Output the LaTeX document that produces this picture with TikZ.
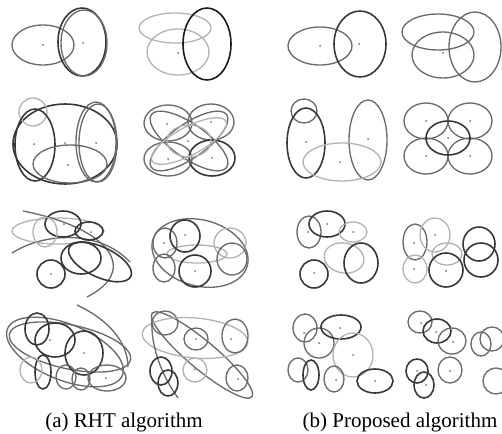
\documentclass[tikz,border=0pt]{standalone}
\usepackage{fontspec}
\setmainfont{Liberation Serif}
\tikzset{
  dk/.style={draw=black!78,line width=1.6pt},
  md/.style={draw=black!58,line width=1.35pt},
  lt/.style={draw=black!30,line width=1.3pt},
  ctr/.style={fill=black!55},
  caption/.style={anchor=base,font=\rmfamily\fontsize{21}{25}\selectfont}
}
\begin{document}
\begin{tikzpicture}[x=1pt,y=-1pt]
\useasboundingbox (0,0) rectangle (502,433);
% row 1
\draw[md] (43,45) ellipse (31 and 20);
\draw[dk] (82,42) ellipse (24 and 34);
\draw[md] (84,43) ellipse (23 and 33);
\draw[lt] (175,28) ellipse (36 and 15);
\draw[lt] (178,52) ellipse (31 and 23);
\draw[dk,draw=black!90] (207,44) ellipse (24 and 36);
\draw[md] (320,46) ellipse (32 and 19);
\draw[dk] (360,44) ellipse (26 and 33);
\draw[md] (438,32) ellipse (36 and 18);
\draw[md] (443,55) ellipse (31 and 23);
\draw[md] (475,47) ellipse (26 and 35);
\foreach \p in {(43,45),(83,43),(178,53),(320,46),(359,44),(443,53)}
  \fill[ctr] \p circle (1);
% row 2
\draw[dk] (65,144) ellipse (52 and 40);
\draw[lt] (33,112) circle (14);
\draw[dk] (35,145) ellipse (20 and 36);
\draw[md] (96,142) ellipse (20 and 40);
\draw[md] (98,143) ellipse (19 and 39);
\draw[md] (70,164) ellipse (37 and 19);
\draw[md] (168,123) ellipse (24 and 18);
\draw[md] (211,122) ellipse (23 and 18);
\draw[md] (168,159) ellipse (24 and 17);
\draw[dk] (212,158) ellipse (23 and 18);
\draw[md,rotate around={35:(189,141)}] (189,141) ellipse (46 and 17);
\draw[md,rotate around={-35:(189,141)}] (189,141) ellipse (46 and 17);
\draw[lt,rotate around={28:(189,141)}] (189,141) ellipse (42 and 14);
\draw[lt] (189,141) ellipse (22 and 16);
\draw[md] (304,111) ellipse (13 and 12);
\draw[dk] (306,143) ellipse (19 and 35);
\draw[md] (368,140) ellipse (19 and 40);
\draw[lt] (342,162) ellipse (39 and 19);
\foreach \c in {(426,121),(470,121),(426,156),(470,156)}
  \draw[md] \c ellipse (22 and 18);
\draw[dk] (448,138) ellipse (22 and 17);
\foreach \p in {(34,144),(96,143),(68,165),(65,143),(167,124),(211,122),(168,159),
  (212,158),(188,141),(306,142),(368,139),(340,162),(426,121),(470,121),
  (426,156),(470,156),(448,138)}
  \fill[ctr] \p circle (1);
% row 3
\draw[lt] (58,231) ellipse (46 and 13);
\draw[md] (12,253) .. controls (45,232) and (100,230) .. (130,262);
\draw[md] (23,211) .. controls (110,228) and (140,270) .. (87,297);
\draw[dk] (63,224) ellipse (18 and 13);
\draw[dk] (89,231) ellipse (14 and 9);
\draw[lt] (45,232) ellipse (12 and 15);
\draw[dk] (81,258) ellipse (20 and 16);
\draw[dk,rotate around={-25:(100,262)}] (100,262) ellipse (34 and 15);
\draw[dk] (51,274) circle (14);
\draw[md,rotate around={-15:(200,253)}] (200,253) ellipse (49 and 33);
\draw[lt] (197,254) ellipse (30 and 9);
\draw[md] (165,243) ellipse (12 and 15);
\draw[dk] (185,236) ellipse (15 and 16);
\draw[lt] (230,243) ellipse (16 and 15);
\draw[md] (232,259) ellipse (15 and 16);
\draw[md] (164,268) ellipse (11 and 14);
\draw[dk] (195,271) circle (16);
\draw[md] (309,232) ellipse (12 and 16);
\draw[dk] (327,224) ellipse (18 and 13);
\draw[lt] (353,232) ellipse (14 and 10);
\draw[lt,rotate around={-10:(344,258)}] (344,258) ellipse (20 and 15);
\draw[dk] (361,263) ellipse (17 and 20);
\draw[dk] (314,274) circle (14);
\draw[md] (415,242) ellipse (12 and 18);
\draw[lt] (435,235) ellipse (15 and 17);
\draw[lt] (415,269) ellipse (12 and 14);
\draw[lt] (447,254) ellipse (15 and 11);
\draw[dk] (446,270) circle (17);
\draw[dk] (479,244) ellipse (16 and 17);
\draw[dk] (481,260) circle (17);
\foreach \p in {(64,224),(91,232),(51,274),(164,243),(185,235),(195,271),
  (308,232),(327,224),(353,232),(314,273),(414,243),(435,235),(414,269),(446,271)}
  \fill[ctr] \p circle (1);
% row 4
\draw[md,rotate around={-22:(65,352)}] (65,352) ellipse (62 and 28);
\draw[md,rotate around={-12:(70,347)}] (70,347) ellipse (62 and 22);
\draw[md] (77,305) .. controls (105,318) and (128,340) .. (128,367);
\draw[dk] (37,329) ellipse (12 and 16);
\draw[dk] (55,340) ellipse (20 and 17);
\draw[dk] (84,353) ellipse (19 and 22);
\draw[dk] (43,372) ellipse (8 and 17);
\draw[lt] (31,370) ellipse (11 and 13);
\draw[md] (66,377) ellipse (10 and 12);
\draw[md] (81,379) ellipse (9 and 11);
\draw[md] (107,378) ellipse (19 and 13);
\draw[md] (165,323) ellipse (13 and 12);
\draw[md,rotate around={-40:(202,355)}] (202,355) ellipse (65 and 14);
\draw[lt,rotate around={-5:(195,338)}] (195,338) ellipse (53 and 20);
\draw[md] (152,318) .. controls (150,350) and (165,380) .. (178,398);
\draw[md] (196,339) ellipse (12 and 11);
\draw[md] (235,336) ellipse (13 and 17);
\draw[lt] (195,370) circle (12);
\draw[dk] (161,371) ellipse (11 and 14);
\draw[dk] (168,383) ellipse (10 and 13);
\draw[md] (237,378) ellipse (11 and 13);
\draw[md] (305,328) ellipse (12 and 14);
\draw[md] (319,343) circle (15);
\draw[dk] (341,327) ellipse (20 and 12);
\draw[lt] (353,355) ellipse (20 and 22);
\draw[md] (298,370) ellipse (10 and 12);
\draw[dk] (311,375) ellipse (8 and 15);
\draw[md] (334,379) ellipse (10 and 13);
\draw[dk] (375,381) ellipse (18 and 12);
\draw[md] (420,322) ellipse (12 and 11);
\draw[dk] (437,331) ellipse (14 and 12);
\draw[md] (452,341) ellipse (14 and 13);
\draw[md] (481,344) ellipse (10 and 12);
\draw[md] (492,339) circle (12);
\draw[dk] (417,371) ellipse (11 and 12);
\draw[dk] (424,385) ellipse (10 and 13);
\draw[md] (450,370) ellipse (12 and 13);
\draw[md] (496,381) circle (13);
\foreach \p in {(50,340),(84,353),(106,378),(196,339),(231,339),(195,369),(238,379),
  (304,333),(319,343),(340,328),(353,355),(336,380),(375,381),(421,323),(436,332),
  (453,342),(417,371),(426,385),(450,371)}
  \fill[ctr] \p circle (1);
% captions
\node[caption] (capa) at (124,427) {(a) RHT algorithm};
\node[caption] (capb) at (400,427) {(b) Proposed algorithm};
\end{tikzpicture}
\end{document}
